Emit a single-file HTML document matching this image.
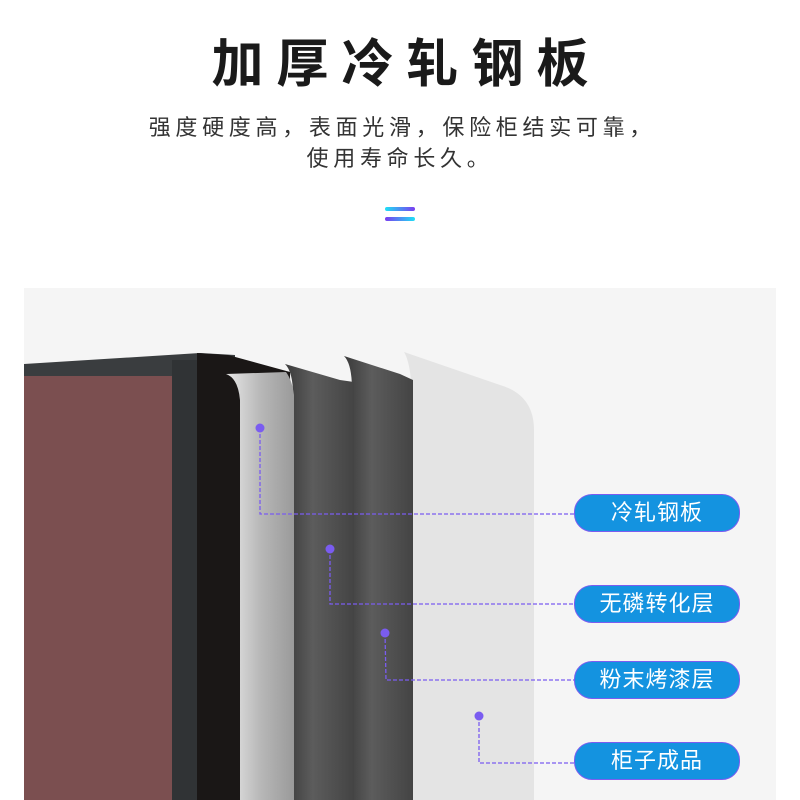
<!DOCTYPE html>
<html><head><meta charset="utf-8"><style>
body{margin:0;width:800px;height:800px;background:#fff;position:relative;overflow:hidden;font-family:"Liberation Sans","Noto Sans CJK SC",sans-serif}
.t{position:absolute;left:0;width:800px;text-align:center;top:30px;font-size:52px;font-weight:bold;letter-spacing:13px;text-indent:13px;color:#1a1a1a;line-height:70px}
.s{position:absolute;left:0;width:800px;text-align:center;top:112px;font-size:22px;color:#333;line-height:31px;letter-spacing:4.7px;text-indent:4.7px}
.bar{position:absolute;left:385px;width:30px;height:4px;border-radius:2px}
.bg{position:absolute;left:24px;top:288px;width:752px;height:512px;background:#f5f5f5}
.pill{position:absolute;left:574px;width:164px;height:36px;border-radius:18px;background:#1493e0;border:1px solid #7a5cf0;color:#fff;font-size:22px;text-align:center;line-height:36px;letter-spacing:1px}
</style></head><body>
<div class="t">加厚冷轧钢板</div>
<div class="s">强度硬度高，表面光滑，保险柜结实可靠，<br>使用寿命长久。</div>
<div class="bar" style="top:207px;background:linear-gradient(90deg,#1ee0f5,#7a3cf0)"></div>
<div class="bar" style="top:217px;background:linear-gradient(90deg,#7a3cf0,#1ee0f5)"></div>
<div class="bg"></div>
<svg style="position:absolute;left:0;top:0" width="800" height="800">
<defs>
<linearGradient id="sil" x1="0" x2="1"><stop offset="0" stop-color="#e8e8e8"/><stop offset=".5" stop-color="#b8b8b8"/><stop offset="1" stop-color="#9a9a9a"/></linearGradient>
<linearGradient id="dk" x1="0" x2="1"><stop offset="0" stop-color="#3a3a3a"/><stop offset=".4" stop-color="#5c5c5c"/><stop offset="1" stop-color="#444"/></linearGradient>
</defs>
<rect x="24" y="376" width="148" height="424" fill="#7b4f50"/>
<polygon points="24,364 200,353 235,355 235,376 24,376" fill="#3a3d3f"/>
<rect x="172" y="360" width="25" height="440" fill="#303335"/>
<polygon points="197,353 228,355 290,372 294,800 197,800" fill="#1a1716"/>
<path d="M404,352 L500,385 Q534,395 534,430 L534,800 L411,800 L411,380 Q409,360 404,352 Z" fill="#e4e4e4"/>
<path d="M344,356 L400,374 L413,380 L413,800 L352,800 L352,390 Q352,364 344,356 Z" fill="url(#dk)"/>
<path d="M285,364 L340,380 L354,382 L354,800 L293,800 L293,395 Q293,372 285,364 Z" fill="url(#dk)"/>
<path d="M226,374 Q238,378 240,400 L240,800 L294,800 L294,395 Q292,380 286,372 Z" fill="url(#sil)"/>
<g stroke="#7a5cf0" stroke-width="1.3" stroke-dasharray="4,2" fill="none">
<polyline points="260,428 260,514 574,514"/>
<polyline points="330,549 330,604 574,604"/>
<polyline points="385,633 386,680 574,680"/>
<polyline points="479,716 479,763 574,763"/>
</g>
<g fill="#7a5cf0"><circle cx="260" cy="428" r="4.5"/><circle cx="330" cy="549" r="4.5"/><circle cx="385" cy="633" r="4.5"/><circle cx="479" cy="716" r="4.5"/></g>
</svg>
<div class="pill" style="top:494px">冷轧钢板</div>
<div class="pill" style="top:585px">无磷转化层</div>
<div class="pill" style="top:661px">粉末烤漆层</div>
<div class="pill" style="top:742px">柜子成品</div>
</body></html>
